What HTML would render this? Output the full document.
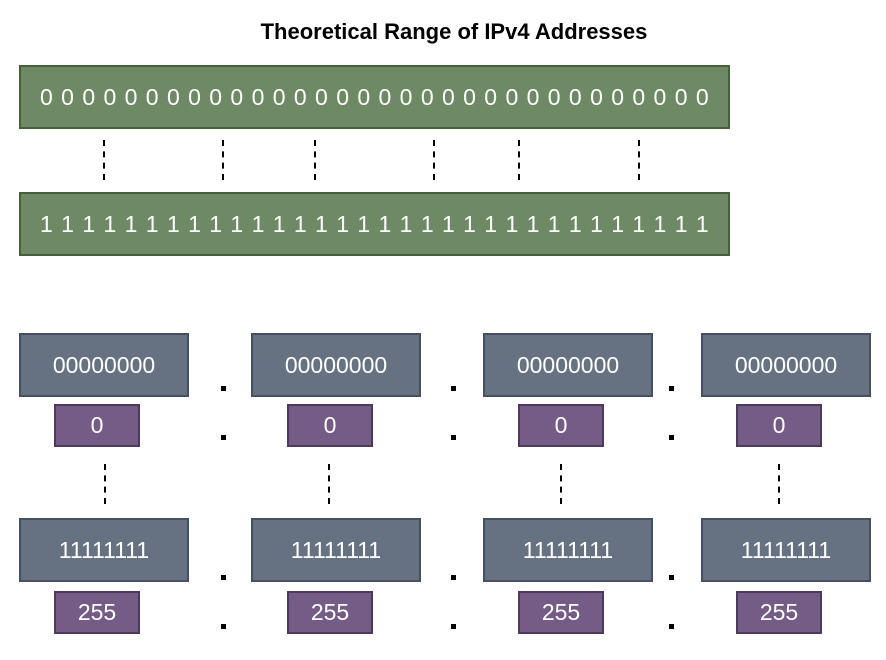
<!DOCTYPE html>
<html><head><meta charset="utf-8"><style>
body{margin:0;width:886px;height:660px;background:#fff;position:relative;overflow:hidden;font-family:"Liberation Sans",sans-serif}
.b{position:absolute;box-sizing:border-box;color:#fff;display:flex;align-items:center;justify-content:center}
.g{background:#6e8a64;border:2px solid #46603c;font-size:23px;justify-content:space-between;padding:0 19px 0 19px}
.s{background:#667181;border:2px solid #465061;font-size:23px;width:170px;height:64px}
.p{background:#745c86;border:2px solid #4c3a5e;font-size:23px;width:86px;height:43px}
.d{position:absolute;width:0;border-left:2px dashed #000;height:40px}
.dot{position:absolute;width:5px;height:5px;background:#000}
h1{position:absolute;top:19px;left:0;width:908px;text-align:center;margin:0;font-size:22px;font-weight:bold}
</style></head><body>
<h1>Theoretical Range of IPv4 Addresses</h1>
<div class="b g" id="z" style="left:19px;top:65px;width:711px;height:64px"></div>
<div class="b g" id="o" style="left:19px;top:192px;width:711px;height:64px"></div>
<div id="c"></div>
<script>
[['z','0'],['o','1']].forEach(([id,ch])=>{const el=document.getElementById(id);for(let i=0;i<32;i++){const s=document.createElement('span');s.textContent=ch;

el.appendChild(s);}});
const tops=[103,222,314,433,518,638];
const c=document.getElementById('c');
tops.forEach(x=>{const d=document.createElement('div');d.className='d';d.style.left=x+'px';d.style.top='140px';

c.appendChild(d);});
const cols=[19,251,483,701];
const pcols=[54,287,518,736];
const dcols=[104,328,560,778];
cols.forEach((x,i)=>{
 const add=(cls,l,t,txt,n)=>{const e=document.createElement('div');e.className='b '+cls;e.style.left=l+'px';e.style.top=t+'px';e.textContent=txt;
 
 c.appendChild(e);};
 add('s',x,333,'00000000','octet-min-binary');
 add('p',pcols[i],404,'0','octet-min-decimal');
 add('s',x,518,'11111111','octet-max-binary');
 add('p',pcols[i],591,'255','octet-max-decimal');
 const d=document.createElement('div');d.className='d';d.style.left=dcols[i]+'px';d.style.top='464px';
 
 c.appendChild(d);
});
[221,451,669].forEach(x=>[386,435,575,624].forEach(y=>{const e=document.createElement('div');e.className='dot';e.style.left=x+'px';e.style.top=y+'px';
 
 c.appendChild(e);}));
</script>
</body></html>
